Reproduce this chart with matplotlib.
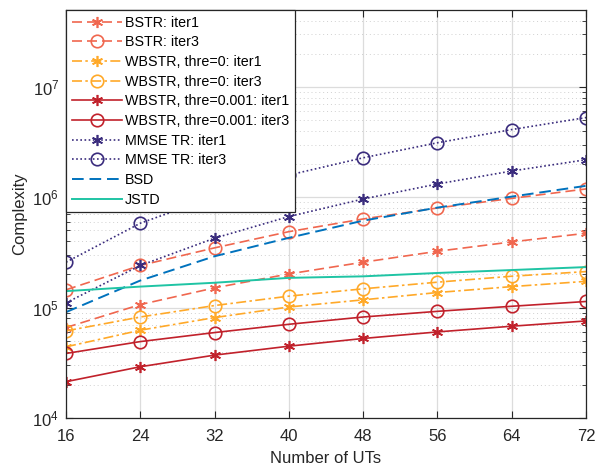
import matplotlib

matplotlib.use("Agg")
import matplotlib.pyplot as plt
from matplotlib.ticker import LogLocator, NullFormatter

plt.rcParams["font.family"] = ["Liberation Sans", "DejaVu Sans"]
plt.rcParams["mathtext.fontset"] = "custom"
plt.rcParams["mathtext.rm"] = "Liberation Sans"

num_uts = [16, 24, 32, 40, 48, 56, 64, 72]

bstr_iter1 = [6.6e4, 1.065e5, 1.51e5, 2.02e5, 2.58e5, 3.24e5, 3.94e5, 4.72e5]
bstr_iter3 = [1.45e5, 2.41e5, 3.48e5, 4.88e5, 6.36e5, 8.0e5, 9.77e5, 1.19e6]
wb0_iter1 = [4.41e4, 6.24e4, 8.12e4, 1.013e5, 1.176e5, 1.37e5, 1.55e5, 1.73e5]
wb0_iter3 = [6.15e4, 8.22e4, 1.044e5, 1.27e5, 1.48e5, 1.70e5, 1.925e5, 2.12e5]
wb1_iter1 = [2.13e4, 2.91e4, 3.71e4, 4.47e4, 5.25e4, 6.02e4, 6.78e4, 7.57e4]
wb1_iter3 = [3.84e4, 4.92e4, 5.94e4, 7.06e4, 8.22e4, 9.25e4, 1.028e5, 1.136e5]
mmse_iter1 = [1.105e5, 2.41e5, 4.26e5, 6.69e5, 9.65e5, 1.32e6, 1.73e6, 2.19e6]
mmse_iter3 = [2.58e5, 5.82e5, 1.014e6, 1.59e6, 2.28e6, 3.12e6, 4.11e6, 5.28e6]
bsd = [9.1e4, 1.76e5, 2.92e5, 4.29e5, 6.14e5, 8.06e5, 1.014e6, 1.27e6]
jstd = [1.41e5, 1.55e5, 1.68e5, 1.86e5, 1.92e5, 2.06e5, 2.19e5, 2.33e5]

c_bstr = "#F0674F"
c_wb0 = "#FFA929"
c_wb1 = "#C1212B"
c_mmse = "#3A2C7D"
c_bsd = "#0072BD"
c_jstd = "#1FC4A4"
asterisk = (6, 2, 0)

fig = plt.figure(figsize=(5.95, 4.68), dpi=100)
ax = fig.add_axes([0.111, 0.107, 0.874, 0.872])

ax.plot(num_uts, bstr_iter1, color=c_bstr, ls=(0, (6, 3)), lw=1.2, marker=asterisk, ms=8, mew=1.2, label="BSTR: iter1")
ax.plot(num_uts, bstr_iter3, color=c_bstr, ls=(0, (6, 3)), lw=1.2, marker="o", ms=9, mfc="none", mew=1.2, label="BSTR: iter3")
ax.plot(num_uts, wb0_iter1, color=c_wb0, ls=(0, (6, 2, 1.5, 2)), lw=1.2, marker=asterisk, ms=8, mew=1.2, label="WBSTR, thre=0: iter1")
ax.plot(num_uts, wb0_iter3, color=c_wb0, ls=(0, (6, 2, 1.5, 2)), lw=1.2, marker="o", ms=9, mfc="none", mew=1.2, label="WBSTR, thre=0: iter3")
ax.plot(num_uts, wb1_iter1, color=c_wb1, ls="-", lw=1.2, marker=asterisk, ms=8, mew=1.2, label="WBSTR, thre=0.001: iter1")
ax.plot(num_uts, wb1_iter3, color=c_wb1, ls="-", lw=1.2, marker="o", ms=9, mfc="none", mew=1.2, label="WBSTR, thre=0.001: iter3")
ax.plot(num_uts, mmse_iter1, color=c_mmse, ls=(0, (1, 1.5)), lw=1.2, marker=asterisk, ms=8, mew=1.2, label="MMSE TR: iter1")
ax.plot(num_uts, mmse_iter3, color=c_mmse, ls=(0, (1, 1.5)), lw=1.2, marker="o", ms=9, mfc="none", mew=1.2, label="MMSE TR: iter3")
ax.plot(num_uts, bsd, color=c_bsd, ls=(0, (6, 3)), lw=1.4, label="BSD")
ax.plot(num_uts, jstd, color=c_jstd, ls="-", lw=1.4, label="JSTD")

ax.set_yscale("log")
ax.set_xlim(16, 72)
ax.set_ylim(1e4, 5e7)
ax.set_xticks(num_uts)
ax.yaxis.set_major_locator(LogLocator(base=10, numticks=10))
ax.yaxis.set_minor_locator(LogLocator(base=10, subs=range(2, 10), numticks=20))
ax.yaxis.set_minor_formatter(NullFormatter())

ax.grid(which="major", color="#dcdcdc", lw=0.9)
ax.grid(which="minor", axis="y", color="#d0d0d0", lw=0.7, ls=(0, (1, 3)))
ax.set_axisbelow(True)
ax.tick_params(which="both", direction="in", top=True, right=True, labelsize=12, colors="#262626")
ax.tick_params(which="major", length=5)
ax.tick_params(which="minor", length=3)
ax.tick_params(axis="x", pad=8)
ax.tick_params(axis="y", pad=5)
for s in ax.spines.values():
    s.set_color("#262626")
    s.set_linewidth(0.9)

ax.set_xlabel("Number of UTs", fontsize=12, color="#262626", labelpad=5)
ax.set_ylabel("Complexity", fontsize=12, color="#262626")

leg = ax.legend(loc="upper left", borderaxespad=0, fontsize=10.25, handlelength=3.5,
                labelspacing=0.4, handletextpad=0.25, borderpad=0.4, fancybox=False,
                framealpha=1, edgecolor="#262626")
leg.get_frame().set_linewidth(0.9)

fig.savefig("out.png", dpi=100)
